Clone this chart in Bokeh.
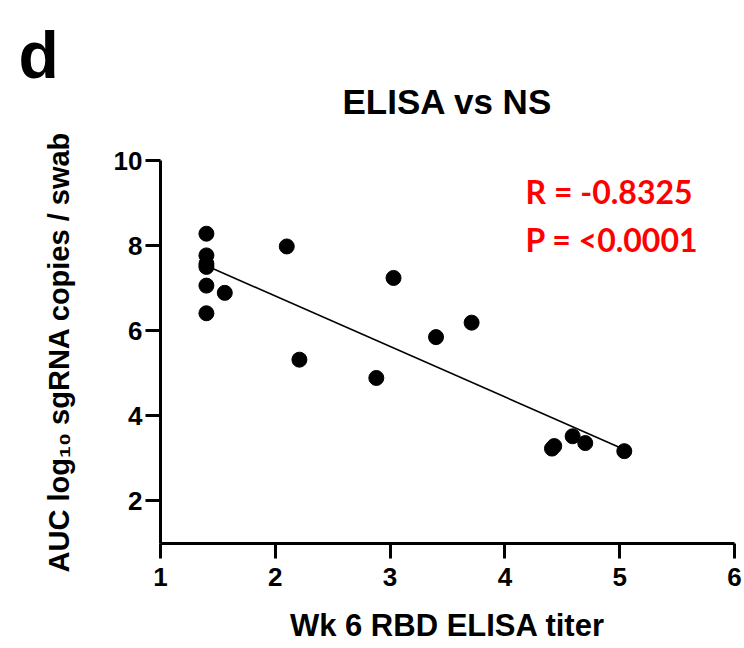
import numpy as np
from bokeh.plotting import figure
from bokeh.models import Label, FixedTicker, Range1d, ColumnDataSource, Title
from bokeh.embed import file_html
from bokeh.resources import INLINE

# Data
elisa_titer = [1.40, 1.40, 1.40, 1.40, 1.40, 1.40, 1.56, 2.10, 3.03, 3.40,
               2.21, 2.88, 3.71, 4.41, 4.43, 4.59, 4.70, 5.04]
auc_sgrna = [8.28, 7.77, 7.57, 7.50, 7.06, 6.41, 6.89, 7.98, 7.24, 5.85,
             5.32, 4.89, 6.19, 3.23, 3.29, 3.52, 3.36, 3.17]
x_ticks = [1, 2, 3, 4, 5, 6]
y_ticks = [2, 4, 6, 8, 10]
stat_lines = ["R = -0.8325", "P = <0.0001"]

FONT = "Liberation Sans"

p = figure(width=744, height=648, output_backend="svg", toolbar_location=None,
           x_range=Range1d(1, 6), y_range=Range1d(1, 10),
           min_border_left=160, min_border_right=10, min_border_top=160,
           min_border_bottom=105)
p.outline_line_color = None
p.xgrid.visible = False
p.ygrid.visible = False
p.background_fill_color = "white"
p.border_fill_color = "white"

# regression line computed from the data
slope, intercept = np.polyfit(elisa_titer, auc_sgrna, 1)
xfit = [min(elisa_titer), max(elisa_titer)]
yfit = [slope * v + intercept for v in xfit]
p.line(xfit, yfit, line_color="black", line_width=1.6)

src = ColumnDataSource(dict(x=elisa_titer, y=auc_sgrna))
p.scatter("x", "y", source=src, size=15, fill_color="black", line_color="black")

for ax in (p.xaxis[0], p.yaxis[0]):
    ax.axis_line_width = 3
    ax.axis_line_color = "black"
    ax.major_tick_line_width = 3
    ax.major_tick_line_color = "black"
    ax.major_tick_out = 15
    ax.major_tick_in = 0
    ax.minor_tick_line_color = None
    ax.major_label_text_font = FONT
    ax.major_label_text_font_style = "bold"
    ax.major_label_text_font_size = "26px"
    ax.major_label_text_color = "black"
    ax.axis_label_text_font = FONT
    ax.axis_label_text_font_style = "bold"
    ax.axis_label_text_color = "black"

p.xaxis[0].ticker = FixedTicker(ticks=x_ticks)
p.yaxis[0].ticker = FixedTicker(ticks=y_ticks)
p.xaxis[0].major_label_standoff = 9
p.yaxis[0].major_label_standoff = 3
p.xaxis[0].axis_label = "Wk 6 RBD ELISA titer"
p.yaxis[0].axis_label = "AUC log₁₀ sgRNA copies / swab"
p.xaxis[0].axis_label_text_font_size = "31px"
p.yaxis[0].axis_label_text_font_size = "29px"
p.xaxis[0].axis_label_standoff = 19
p.yaxis[0].axis_label_standoff = 36

# panel letter (farthest from the plot)
p.title = Title(text="d", align="left", text_font=FONT,
                text_font_style="bold", text_font_size="66px",
                text_color="black", offset=-142, standoff=-98,
                vertical_align="bottom")

# chart title (closest to the plot)
p.add_layout(Title(text="ELISA vs NS", align="center", text_font=FONT,
                   text_font_style="bold", text_font_size="35px",
                   text_color="black", standoff=77,
                   vertical_align="middle"), "above")

# statistics
stat_y = [9.26, 8.14]
for s, yy in zip(stat_lines, stat_y):
    p.add_layout(Label(x=4.18, y=yy, text=s, text_font="Lato",
                       text_font_style="bold", text_font_size="32px",
                       text_color="#ff0000", text_baseline="alphabetic"))

open("out.html", "w").write(file_html(p, INLINE))
